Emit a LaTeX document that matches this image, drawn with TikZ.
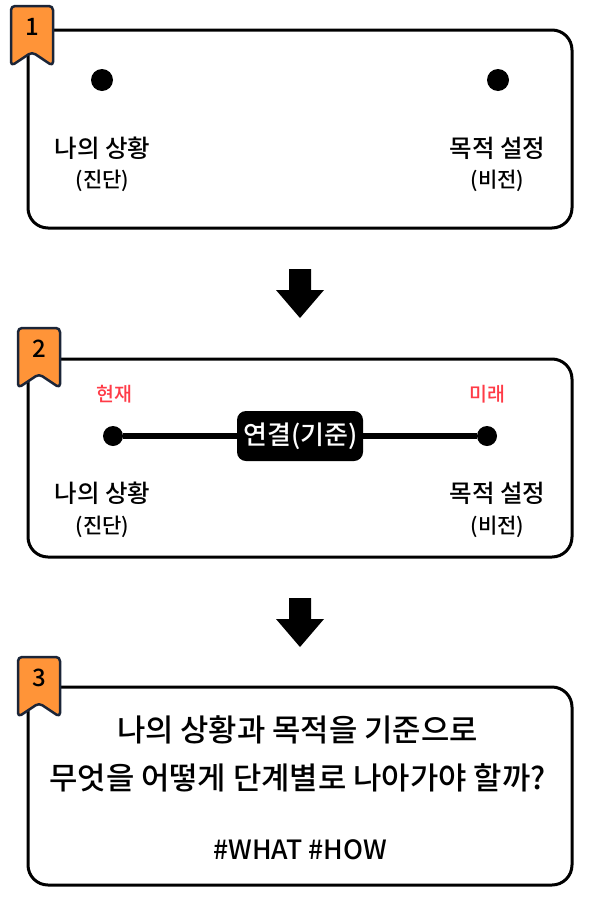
\documentclass[tikz,border=0pt]{standalone}
\usepackage{fontspec}
\usepackage{xcolor}
\usepackage{tikz}
\usetikzlibrary{positioning,calc}
\setmainfont{Noto Sans CJK KR Medium}
\definecolor{tagorange}{HTML}{FF9438}
\definecolor{tagdark}{HTML}{1B2538}
\definecolor{nowred}{HTML}{FF3B47}

\begin{document}
\begin{tikzpicture}[
  x=1pt, y=-1pt,
  panel/.style={draw=black, fill=white, line width=3pt, rounded corners=20pt},
  tag/.style={draw=tagdark, fill=tagorange, line width=2.5pt, rounded corners=4pt, line join=round},
  tagNum/.style={font=\fontsize{24}{26}\selectfont\color{black}},
  spot/.style={circle, fill=black, inner sep=0pt, minimum size=22pt},
  spotS/.style={circle, fill=black, inner sep=0pt, minimum size=20pt},
  big/.style={font=\fontsize{24.5}{28}\selectfont\color{black}},
  small/.style={font=\fontsize{21}{24}\selectfont\color{black}},
  redText/.style={font=\fontsize{19.5}{22}\selectfont\color{nowred}},
  link/.style={fill=black, rounded corners=9pt, text=white, inner xsep=0pt, inner ysep=0pt,
    minimum width=126pt, minimum height=50pt, font=\fontsize{26}{30}\selectfont},
  bar/.style={line width=5.5pt, color=black},
  head/.style={font=\fontsize{30.8}{48}\selectfont\color{black}, align=center},
]
\useasboundingbox (0,0) rectangle (600,900);
% panels
\foreach \top in {30,359,687} {
  \draw[panel] (28,\top) rectangle (572,\top+198);
}
% arrows
\foreach \ay in {269,598} {
  \fill[black] (289,\ay) -- (311,\ay) -- (311,\ay+21) -- (324,\ay+21) -- (300,\ay+49)
    -- (276,\ay+21) -- (289,\ay+21) -- cycle;
}
% tags
\foreach \tx/\ty/\n in {11/6/1, 18/328/2, 18/657/3} {
  \draw[tag] (\tx,\ty+60) -- (\tx,\ty) -- (\tx+42,\ty) -- (\tx+42,\ty+60) -- (\tx+21,\ty+46) -- cycle;
  \node[tagNum] (num\n) at (\tx+21,\ty+21) {\n};
}
% first panel
\node[spot] (startA) at (102,80) {};
\node[spot] (goalA) at (498,80) {};
\node[big] (stateA) at (102.5,148) {나의 상황};
\node[small] (diagA) at (102.5,180.5) {(진단)};
\node[big] (aimA) at (497.5,148) {목적 설정};
\node[small] (visA) at (497.5,180.5) {(비전)};
% second panel
\node[spotS] (startB) at (113,436) {};
\node[spotS] (goalB) at (487,436) {};
\node[link] (linkB) at (300,436) {\hspace{1pt}연결(기준)};
\draw[bar] (startB) -- (linkB);
\draw[bar] (linkB) -- (goalB);
\node[redText] (nowB) at (114,394) {현재};
\node[redText] (nextB) at (487,394) {미래};
\node[big] (stateB) at (102.5,493) {나의 상황};
\node[small] (diagB) at (102.5,526.5) {(진단)};
\node[big] (aimB) at (497.5,493) {목적 설정};
\node[small] (visB) at (497.5,526.5) {(비전)};
% third panel
\node[head] (askC) at (297.5,754) {나의 상황과 목적을 기준으로\\무엇을 어떻게 단계별로 나아가야 할까?};
\node[font=\fontsize{26.5}{30}\selectfont\color{black}] (hashC) at (300,850) {\#WHAT \#HOW};
\end{tikzpicture}
\end{document}
